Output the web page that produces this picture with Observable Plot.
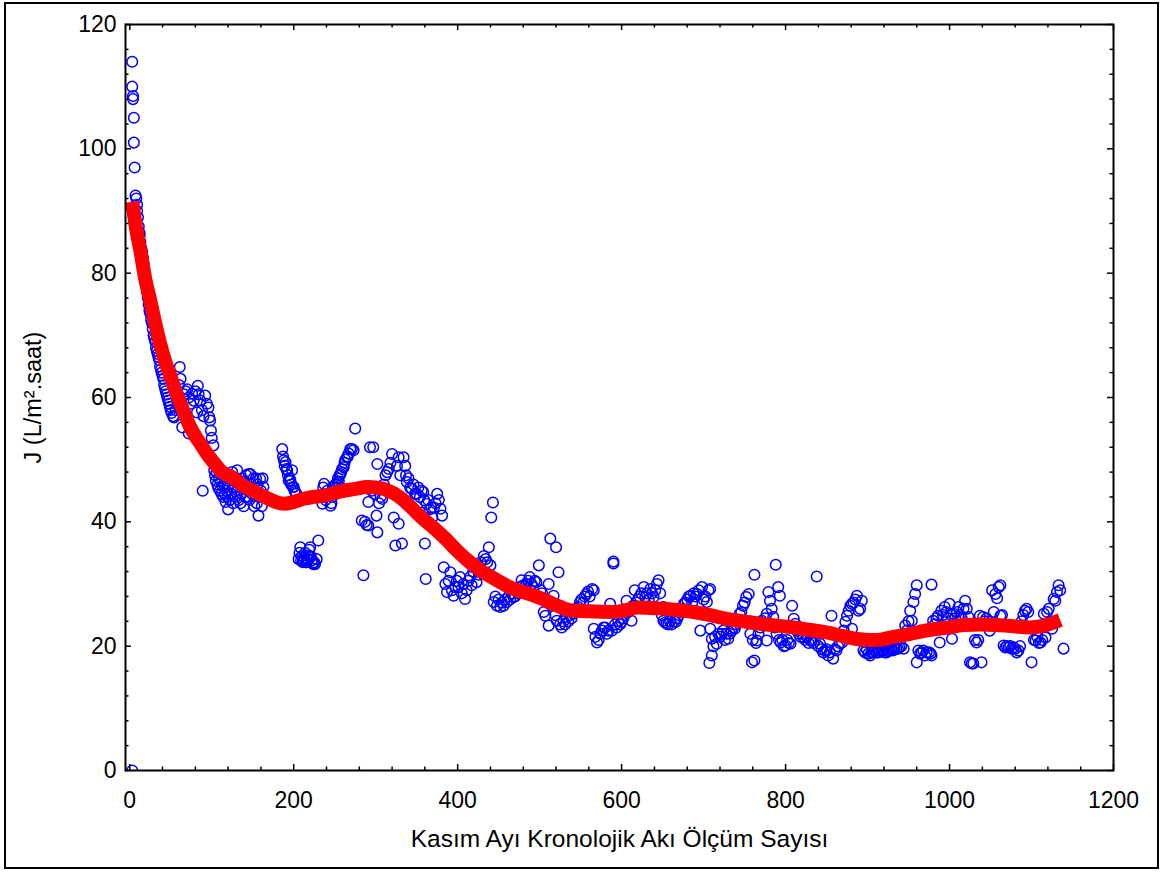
<!DOCTYPE html>
<html>
<head>
<meta charset="utf-8">
<script src="https://cdn.jsdelivr.net/npm/d3@7"></script>
<script src="https://cdn.jsdelivr.net/npm/@observablehq/plot@0.6"></script>
<style>
  html, body { margin: 0; padding: 0; background: #fff; }
  #wrap { position: relative; width: 1164px; height: 872px; }
  #border { position: absolute; left: 4px; top: 2px; width: 1151px; height: 863px; border: 2px solid #000; pointer-events: none; }
</style>
</head>
<body>
<div id="wrap"><div id="border"></div></div>
<script>
// Scatter: [measurement number, flux J]
const fluxA = [
  [3,0],
  [3,114],[3,110],[4,108.5],[4,108],[5,105],[5,101],[6,97],[7,92.5],[8,92],[9,91],[9,90],[10,89],[11,87.5],[12,86.5],[12,86],[13,85],[14,84],[15,83.5],[16,82.5],[17,81.5],[18,80.5],[18,79.5],[19,79],[20,78],[21,77],[22,76],[23,75],[24,74],[25,73.5],[26,72.5],[27,72],[28,71],[29,70],[30,69.5],[31,69],[32,68],[33,67.5],[34,67],[35,66.5],[36,66],[37,65],[38,64.5],[39,64],[40,63.5],[41,63],[42,62],[43,61.5],[44,61],[45,60.5],[46,60],[47,59.5],[48,59],[49,58.5],[50,58],
  [51,57.5],[53,57],[54,56.8],[56,58],[58,59.5],[60,62],[61,64.9],[62,63],[64,55.2],[66,60.5],[68,61],[70,61.3],[72,54.2],[72,60],[74,59],[76,60.6],[78,59.5],[80,61],[82,57.6],[83,61.9],[84,60.5],[86,59.5],[88,58],[89,45],[90,57],[92,60.3],[94,59],[96,58.4],[97,56.8],[98,56.3],[99,54.7],[100,53.5],[102,52.3]
];
const fluxB = [
  [103,48.3],[104,47.5],[105,46.6],[106,48],[107,46],[108,45.5],[109,47],[110,45],[111,46.5],[112,44.5],[113,45.8],[114,44],[115,46],[116,44.5],[117,43.2],[118,45],[119,44],[120,42],[121,46],[122,43.5],[123,47.5],[124,44.5],[125,48],[126,43],[127,45.5],[128,46.5],[129,44],[130,47],[131,48.3],[132,45],[133,43.5],[134,46],[135,43],[136,44.5],[137,47],[138,45.5],[139,42.5],[140,46.5],[141,44],[142,47.5],[143,44],[144,45],[145,47.7],[146,43.5],[147,47.7],[148,46],[149,44.5],[150,45],[151,47],[152,42.5],[153,44.5],[154,47],[155,43],[156,46],[157,41],[158,44],[159,46.9],[160,45],[161,42.5],[162,47],[163,45.6],[164,44],
  [186,51.7],[187,50.5],[188,49.9],[189,49],[190,49.6],[191,48.5],[192,48.3],[193,47.5],[194,46.6],[195,47],[196,46.6],[197,46],[198,48.3],[199,45.6],[200,45.6],[201,45],[202,44.8],[203,44.5],
  [206,34],[207,35],[208,35.9],[209,33.8],[210,34.5],[211,33.5],[212,33.8],[213,34.2],[214,35],[215,33.5],[216,33.5],[217,34],[218,34.6],[219,35.5],[220,35.9],[221,34.4],[222,33.8],[223,33.3],[224,33.2],[225,33.5],[226,33.2],[228,34],[230,37],
  [235,42.9],[236,45.5],[237,46.1],[238,44],[239,43.5],[241,45],[243,44.5],[245,42.6],[246,43],[247,44],[248,45.5],[249,45.8],[250,44.5],[251,46],[252,45.5],[253,46.4],[254,47],[255,46.5],[256,47.5],[257,47.7],[258,48],[259,48.5],[261,48.8],[262,49.5],[263,50],[265,50.4],[266,50.5],[267,51],[269,51.7],[271,51.7],[273,51.5],[275,55],
  [283,40.2],[285,31.4],[287,40],[289,39.5],[291,39.4],[291,43.2],[293,52],[295,45],[297,52],[299,44.5]
];
const fluxC = [
  [301,41],[302,38.3],[302,49.3],[304,43],[306,44],[308,43.7],[310,46],[312,47.5],[314,48],[316,48.5],[318,49.5],[320,50.9],[322,40.7],[324,36.2],[326,49],[328,39.7],[328,50.4],[330,47.5],[332,36.5],[334,50.4],[336,49],[337,47.5],[338,46.4],[340,47],[342,45.5],[344,45.3],[346,46],[348,44.5],[350,44.5],[352,45.5],[354,44],[356,45],[357,41.5],[358,44.8],[359,43.5],[360,36.5],[361,30.8],[362,42.9],[363,40],[364,43.5],[366,42],[368,42.3],[369,40.7],[371,42.3],[373,43],[375,44.5],[377,43.5],[379,42.1],[381,41],
  [383,32.7],[385,30],[387,28.7],[389,30.5],[391,31.9],[393,29],[395,28.1],[397,29.5],[399,30.5],[401,29.5],[403,31.1],[405,28.5],[407,30],[409,27.6],[411,29],[413,30.5],[415,31.1],[417,29.8],[419,32],[421,32.7],[423,30.3],[425,33],[426,31.5],[428,33.5],[430,32],[432,34.5],[434,34],[436,33.5],[438,35.9],[440,33],[441,40.7],[443,43.1],[444,27.1],[446,28],[448,26.5],[450,27.5],[452,26.3],[454,27],[456,26.5],[458,27.5],[460,27.1],[462,28],[464,27.5],[466,28.5],[468,27.9],[470,28],[472,29],[474,28.5],[476,29.5],[478,30.6],[480,29.8],[482,29.5],[484,30],[486,30.5],[488,31.1],[490,30],[492,29.5],[494,30.5],[496,30.3],[499,33],
  [501,29],[503,28.5],[505,25.5],[507,24.9],[509,27],[511,30],[511,23.3],[513,37.3],[515,26.5],[517,28.1],[519,25],[520,35.9],[521,24.1],[523,31.9],[525,23.5],[527,23],[529,24],[531,23.5],[533,24.7],[535,24],[537,25],[539,24.5],[541,25.2],[543,25.8],[545,26],[547,26.3],[549,27],[551,27.5],[553,27],[555,28],[557,28.4],[559,28.8],[561,28],[564,29.2],[566,29],[566,22.8],[568,21.5],[570,20.6],[572,21],[574,22],[576,22.5],[578,23],[580,23],[582,22],[584,22.5],[586,26.8],[588,22.5],[590,33.3],[590,33.6],[592,23.5],[594,23],[596,24],[598,23.5]
];
const fluxD = [
  [600,23.9],[602,24.5],[604,25],[606,27.3],[608,25.5],[610,26],[612,24.1],[614,26.5],[616,29],[618,27],[620,27.5],[622,28],[624,28.5],[627,29.5],[629,28],[631,28.5],[633,27.5],[635,29.2],[637,28.5],[639,27.9],[641,29],[643,30],[645,30.6],[647,28.5],[649,25],[651,26.3],[651,24.1],[653,23.8],[655,23.6],[657,23.5],[659,24],[661,23.5],[664,24],[666,23.9],[668,24.5],[670,25],[672,25.5],[674,26],[676,26.8],[678,27],[680,27.5],[682,28],[684,28.1],[686,27],[688,28.5],[690,28],[692,28.4],[694,29],[696,22.5],[698,29.5],
  [700,27.5],[702,28],[704,27.1],[706,29],[707,17.3],[708,29.2],[708,22.8],[710,21.2],[710,18.5],[712,20],[714,21.5],[716,20.4],[718,22],[720,21.5],[722,22],[724,22.5],[726,21],[728,22],[730,21.2],[732,22],[734,22.5],[736,23],[738,22.8],[740,23.5],[742,24],[744,25.2],[746,25.5],[748,26.5],[750,27],[752,27.9],[755,28.4],[757,22],[759,17.4],[760,21],[762,17.7],[762,31.5],[764,20.5],[765,20.9],[767,22],[769,23],[771,24.1],[773,23.5],[775,24.5],[777,25.2],[777,20.9],[779,28.7],[781,27.3],[783,26],[785,24.7],[787,23],[788,33.1],[789,22],[791,29.5],[792,21],[793,28.1],[794,20.6],[796,21],[798,20],
  [800,20.1],[802,21],[804,20.5],[806,20.4],[808,26.5],[810,24.4],[812,23.6],[814,22.5],[816,22],[818,21.5],[820,22],[822,21.4],[824,21],[826,21.5],[828,20.5],[830,21],[832,20.9],[834,20.5],[836,21],[838,31.2],[840,20],[842,20.4],[844,19.5],[846,19],[848,19.3],[850,19.5],[852,18.5],[854,19],[856,24.9],[858,18],[860,19.5],[862,19.3],[864,20],[866,20.5],[869,20.6],[871,22.5],[873,23.9],[875,24.9],[877,25.7],[879,26.5],[881,26.8],[881,22.8],[883,27],[885,27.5],[887,28.1],[889,25.7],[891,26],[893,27.3],[895,19.3],[897,19],[899,19.5]
];
const fluxE = [
  [901,18.8],[903,18.5],[905,19],[907,19],[909,19.3],[911,19],[913,19],[915,19.3],[917,19.2],[919,19.3],[921,19],[923,19],[925,19.2],[927,19.3],[929,19.5],[931,19.3],[933,19.5],[935,19.6],[937,19.6],[939,19.8],[941,20],[944,19.6],[946,23.3],[948,22.5],[950,24],[952,25.7],[954,24.1],[956,27.1],[958,28.4],[960,29.8],[960,17.4],[962,19.3],[964,18.8],[966,19],[968,19.3],[970,18.5],[972,19],[975,19],[977,18.8],[978,18.5],[978,29.9],[980,24.1],[982,23.5],[984,24.5],[986,24.9],[988,20.6],[990,25.7],[992,25],[994,26.3],[996,25.5],[998,24.5],
  [1000,26.8],[1002,25],[1003,21.2],[1005,25.2],[1007,24.5],[1009,25.5],[1011,26.3],[1013,25],[1015,24.4],[1017,26],[1019,27.3],[1021,26],[1023,24.7],[1025,17.4],[1027,17.2],[1029,17.2],[1031,21],[1033,20.6],[1035,21],[1037,24.9],[1039,17.4],[1041,24.7],[1043,24],[1045,24.5],[1047,23.5],[1049,22.5],[1050,23.9],[1052,29],[1054,25.5],[1056,28.4],[1058,27.7],[1060,29.5],[1062,29.8],[1062,24.9],[1064,25],[1066,20.1],[1068,19.8],[1070,20],[1072,19.8],[1074,20],[1076,19.6],[1078,19.8],[1080,19.6],[1082,19],[1084,19.3],[1086,20],[1088,24],[1090,25],[1092,25.7],[1094,26],[1096,25.5],[1100,17.4],[1103,21],[1105,20.9],[1107,21.5],[1109,20.5],[1111,20.6],[1113,21],[1115,25.2],[1117,21.4],[1119,25.5],[1121,26],[1123,24],[1125,22.8],[1127,27.6],[1129,27.3],[1131,28.7],[1133,29.8],[1135,29],[1139,19.6]
];
// Smoothed fit (red curve)
const fitCurve = [
  [3,91.5],[8,87],[13,83.6],[19,79],[25,75.6],[31,72],[37,68.7],[44,65.5],[50,63.3],[56,61],[62,59],[68,57],[74,55.2],[80,53.8],[86,52.6],[95,50.8],[104,49.3],[111,48.2],[119,47.5],[127,47],[135,46.1],[150,45],[165,44],[178,43.2],[188,42.9],[200,43.2],[212,43.7],[224,44],[240,44.3],[257,44.9],[275,45.3],[290,45.6],[302,45.5],[312,45.2],[322,44.6],[332,43.7],[342,42.5],[352,41.2],[362,40],[372,38.9],[385,37.3],[399,35.4],[415,33.5],[430,32],[448,30.6],[465,29.4],[480,28.7],[490,28.3],[505,27.5],[520,26.6],[537,25.8],[560,25.6],[590,25.5],[605,25.8],[620,26.2],[640,26.1],[655,26],[670,25.8],[688,25.5],[708,25],[728,24.4],[749,24],[769,23.6],[790,23.3],[810,23],[830,22.6],[850,22.2],[870,21.6],[890,21.1],[905,21],[918,21.1],[932,21.5],[945,21.8],[956,22.1],[975,22.6],[997,23],[1017,23.4],[1037,23.5],[1058,23.4],[1078,23.2],[1098,23],[1115,23.3],[1135,24.2]
];
const xTickLabels = [0, 200, 400, 600, 800, 1000, 1200];
const yTickLabels = [0, 20, 40, 60, 80, 100, 120];
const xLabel = "Kasım Ayı Kronolojik Akı Ölçüm Sayısı";
const yLabel = "J (L/m².saat)";

const points = [...fluxA, ...fluxB, ...fluxC, ...fluxD, ...fluxE];
const xMinor = d3.range(40, 1200, 40).filter(v => v % 200 !== 0);
const yMinor = d3.range(4, 120, 4).filter(v => v % 20 !== 0);

const mTop = 24, mLeft = 125, mRight = 51, mBottom = 102;
const W = 1164, H = 872;
const pw = W - mLeft - mRight, ph = H - mTop - mBottom;
const MAJ = 6, MIN = 3.5;

const chart = Plot.plot({
  width: W, height: H,
  marginTop: mTop, marginLeft: mLeft, marginRight: mRight, marginBottom: mBottom,
  style: {fontFamily: "'Liberation Sans', Arial, sans-serif", fontSize: "23px", background: "transparent", color: "#000"},
  x: {domain: [-5.2, 1200]},
  y: {domain: [0, 120]},
  marks: [
    Plot.dot(points, {x: d => d[0], y: d => d[1], r: 5.3, stroke: "#0000ff", strokeWidth: 1.5, fill: "none", clip: true}),
    Plot.line(fitCurve, {x: d => d[0], y: d => d[1], stroke: "#ff0000", strokeWidth: 14, curve: "monotone-x", strokeLinejoin: "round", strokeLinecap: "butt"}),
    // inward ticks on all four sides
    Plot.tickX(xTickLabels, {x: d => d, insetTop: ph - MAJ, stroke: "#000", strokeWidth: 1.5}),
    Plot.tickX(xTickLabels, {x: d => d, insetBottom: ph - MAJ, stroke: "#000", strokeWidth: 1.5}),
    Plot.tickX(xMinor, {x: d => d, insetTop: ph - MIN, stroke: "#000", strokeWidth: 1.5}),
    Plot.tickX(xMinor, {x: d => d, insetBottom: ph - MIN, stroke: "#000", strokeWidth: 1.5}),
    Plot.tickY(yTickLabels, {y: d => d, insetRight: pw - MAJ, stroke: "#000", strokeWidth: 1.5}),
    Plot.tickY(yTickLabels, {y: d => d, insetLeft: pw - MAJ, stroke: "#000", strokeWidth: 1.5}),
    Plot.tickY(yMinor, {y: d => d, insetRight: pw - MIN, stroke: "#000", strokeWidth: 1.5}),
    Plot.tickY(yMinor, {y: d => d, insetLeft: pw - MIN, stroke: "#000", strokeWidth: 1.5}),
    Plot.frame({stroke: "#000", strokeWidth: 2}),
    Plot.axisX({ticks: xTickLabels, tickSize: 0, tickPadding: 21, label: null, tickFormat: d => String(d)}),
    Plot.axisY({ticks: yTickLabels, tickSize: 0, tickPadding: 9, label: null, tickFormat: d => String(d)}),
    Plot.text([xLabel], {frameAnchor: "bottom", dy: 76, text: d => d, fontSize: 24.5, fill: "#000", textAnchor: "middle"}),
    Plot.text([yLabel], {frameAnchor: "left", dx: -92, rotate: -90, text: d => d, fontSize: 23.5, fill: "#000", textAnchor: "middle"})
  ]
});
document.getElementById("wrap").prepend(chart);
</script>
</body>
</html>
